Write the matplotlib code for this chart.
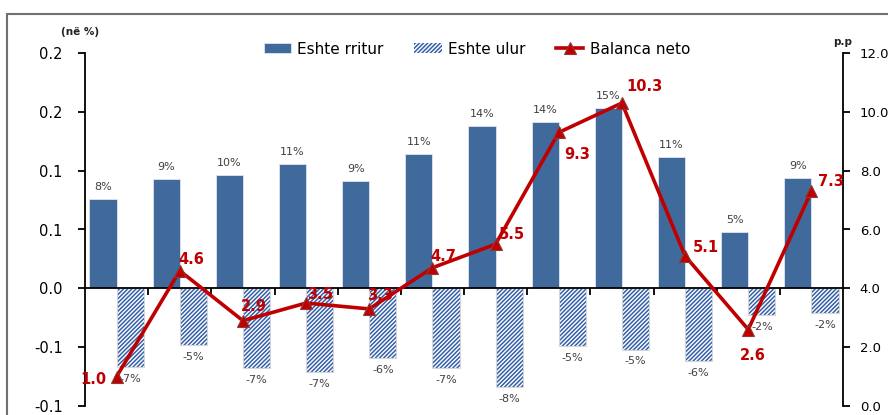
import matplotlib
matplotlib.use("Agg")
import matplotlib.pyplot as plt
from matplotlib.patches import Rectangle
import numpy as np

# data
rritur = [0.076, 0.093, 0.096, 0.106, 0.091, 0.114, 0.138, 0.141, 0.153, 0.112, 0.048, 0.094]
ulur = [-0.067, -0.048, -0.068, -0.071, -0.059, -0.068, -0.084, -0.049, -0.052, -0.062, -0.023, -0.021]
balanca = [1.0, 4.6, 2.9, 3.5, 3.3, 4.7, 5.5, 9.3, 10.3, 5.1, 2.6, 7.3]
left_ticks = [-0.10, -0.05, 0.0, 0.05, 0.10, 0.15, 0.20]
left_ticklabels = ["-0.1", "-0.1", "0.0", "0.1", "0.1", "0.2", "0.2"]
right_ticks = [0.0, 2.0, 4.0, 6.0, 8.0, 10.0, 12.0]

# label offsets (points) for the net balance values
bal_offsets = [(-17, -2), (8, 8), (8, 10), (10, 6), (8, 10), (8, 8),
               (12, 7), (13, -16), (16, 12), (15, 6), (3, -19), (14, 7)]

BLUE = "#40699C"
HATCH_BLUE = "#3560A8"
RED = "#C00000"

plt.rcParams["font.family"] = "DejaVu Sans"
plt.rcParams["hatch.linewidth"] = 1.1

fig = plt.figure(figsize=(8.88, 4.15), dpi=100)
ax = fig.add_axes([85 / 888, 1 - 406 / 415, (843 - 85) / 888, (406 - 53) / 415])
ax2 = ax.twinx()

x = np.arange(1, len(rritur) + 1)
w = 0.43

b1 = ax.bar(x - w / 2, rritur, width=w, color=BLUE, edgecolor="#dfe6ef",
            linewidth=0.6, zorder=2, label="Eshte rritur")
b2 = ax.bar(x + w / 2, ulur, width=w, color="white", edgecolor=HATCH_BLUE,
            hatch="////////", linewidth=0, zorder=2, label="Eshte ulur")
ax.bar(x + w / 2, ulur, width=w, color="none", edgecolor="#d5d5d5",
       linewidth=0.8, zorder=2)

for xi, v in zip(x, rritur):
    ax.annotate(f"{v * 100:.0f}%", (xi - w / 2, v), xytext=(0, 5),
                textcoords="offset points", ha="center", va="bottom",
                fontsize=8, color="#404040")
for xi, v in zip(x, ulur):
    ax.annotate(f"{v * 100:.0f}%", (xi + w / 2, v), xytext=(0, -5),
                textcoords="offset points", ha="center", va="top",
                fontsize=8, color="#404040")

ln, = ax2.plot(x, balanca, color=RED, linewidth=2.6, marker="^",
               markersize=9, markerfacecolor=RED, markeredgecolor="#8B3A3A",
               markeredgewidth=0.8, zorder=3, label="Balanca neto")
for xi, v, off in zip(x, balanca, bal_offsets):
    ax2.annotate(f"{v:.1f}", (xi, v), xytext=off, textcoords="offset points",
                 ha="center", va="center", fontsize=10.5, fontweight="bold",
                 color=RED)

ax.set_xlim(0.5, len(rritur) + 0.5)
ax.set_ylim(-0.1, 0.2)
ax2.set_ylim(0, 12)

ax.set_yticks(left_ticks)
ax.set_yticklabels(left_ticklabels, fontsize=10.5)
ax2.set_yticks(right_ticks)
ax2.set_yticklabels([f"{t:.1f}" for t in right_ticks], fontsize=9.5)

# category axis on the zero line, ticks between groups
ax.set_xticks(np.arange(1.5, len(rritur), 1.0))
ax.set_xticklabels([])
ax.tick_params(axis="x", direction="out", length=5, width=1.3, color="black")
ax.spines["bottom"].set_position(("data", 0))
ax.spines["bottom"].set_linewidth(1.3)
ax.spines["bottom"].set_zorder(4)

for a in (ax, ax2):
    a.spines["top"].set_visible(False)
    a.patch.set_visible(False)
ax2.spines["bottom"].set_visible(False)
ax2.spines["left"].set_visible(False)
ax.spines["right"].set_visible(False)
ax.spines["left"].set_linewidth(1.3)
ax2.spines["right"].set_linewidth(1.3)
ax.tick_params(axis="y", length=5, width=1.3, pad=11, colors="black")
ax2.tick_params(axis="y", length=5, width=1.3, pad=7, colors="black")
ax2.set_zorder(ax.get_zorder() + 1)

fig.text(80 / 888, 1 - 32 / 415, "(në %)", fontsize=7.5, fontweight="bold",
         ha="center", va="center", color="#222222")
fig.text(843 / 888, 1 - 42 / 415, "p.p", fontsize=7.5, fontweight="bold",
         ha="center", va="center", color="#222222")

fig.legend(handles=[b1, b2, ln], loc="center", bbox_to_anchor=(0.537, 1 - 49 / 415),
           ncol=3, frameon=False, fontsize=11, handlelength=1.8,
           handletextpad=0.4, columnspacing=2.0)

fig.add_artist(Rectangle((7 / 888, -0.1), 1.2, 1.1 - 14 / 415,
                         transform=fig.transFigure, fill=False,
                         edgecolor="#707070", linewidth=1.5))

fig.savefig("out.png", dpi=100)
